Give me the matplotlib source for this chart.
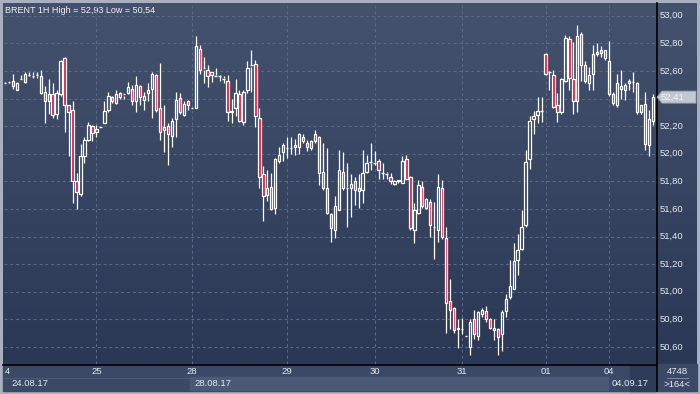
import matplotlib
matplotlib.use("Agg")
import matplotlib.pyplot as plt
from matplotlib.patches import Rectangle, Polygon
import numpy as np

# BRENT 1H candles, 24.08.17 - 04.09.17
opens = [52.51, 52.52, 52.53, 52.46, 52.53, 52.52, 52.57, 52.57, 52.56, 52.56,
         52.45, 52.38, 52.43, 52.29, 52.43, 52.69, 52.35, 52.32, 51.80, 51.71,
         51.98, 52.10, 52.20, 52.16, 52.19, 52.22, 52.32, 52.41, 52.37, 52.44,
         52.42, 52.44, 52.47, 52.38, 52.49, 52.39, 52.44, 52.47, 52.57, 52.33,
         52.17, 52.20, 52.13, 52.25, 52.40, 52.28, 52.38, 52.33, 52.33, 52.76,
         52.61, 52.61, 52.57, 52.57, 52.56, 52.55, 52.53, 52.30, 52.33, 52.43,
         52.23, 52.46, 52.63, 52.65, 52.26, 51.85, 51.70, 51.76, 51.61, 51.95,
         52.01, 52.04, 52.04, 52.05, 52.05, 52.12, 52.08, 52.04, 52.09, 52.12,
         51.87, 51.75, 51.56, 51.45, 51.59, 51.87, 51.76, 51.75, 51.80, 51.75,
         51.74, 51.87, 51.93, 51.94, 51.95, 51.86, 51.86, 51.83, 51.78, 51.80,
         51.79, 51.96, 51.83, 51.45, 51.57, 51.76, 51.61, 51.65, 51.47, 51.45,
         51.75, 51.39, 50.93, 50.88, 50.73, 50.73, 50.68, 50.60, 50.80, 50.68,
         50.84, 50.86, 50.80, 50.72, 50.73, 50.69, 50.86, 50.96, 51.02, 51.23,
         51.31, 51.48, 51.96, 52.25, 52.28, 52.31, 52.72, 52.59, 52.57, 52.35,
         52.30, 52.53, 52.83, 52.54, 52.38, 52.87, 52.64, 52.51, 52.58, 52.72,
         52.75, 52.75, 52.67, 52.43, 52.35, 52.49, 52.46, 52.51, 52.52, 52.51,
         52.30, 52.36, 52.06, 52.24]
highs = [52.52, 52.52, 52.58, 52.52, 52.57, 52.59, 52.59, 52.59, 52.59, 52.61,
         52.49, 52.54, 52.51, 52.46, 52.68, 52.70, 52.35, 52.38, 51.86, 52.07,
         52.12, 52.23, 52.21, 52.21, 52.19, 52.38, 52.45, 52.42, 52.46, 52.45,
         52.43, 52.52, 52.50, 52.56, 52.50, 52.45, 52.51, 52.59, 52.58, 52.66,
         52.35, 52.22, 52.26, 52.45, 52.44, 52.38, 52.39, 52.33, 52.85, 52.79,
         52.70, 52.64, 52.59, 52.62, 52.57, 52.56, 52.57, 52.40, 52.54, 52.46,
         52.46, 52.67, 52.75, 52.68, 52.33, 51.91, 51.88, 51.86, 51.97, 52.05,
         52.08, 52.12, 52.12, 52.11, 52.15, 52.14, 52.10, 52.10, 52.17, 52.13,
         52.08, 52.04, 51.57, 51.69, 52.03, 52.01, 51.93, 51.85, 51.83, 51.85,
         52.03, 51.99, 52.08, 52.02, 51.96, 51.93, 51.87, 51.86, 51.81, 51.81,
         51.98, 51.99, 51.84, 51.64, 51.81, 51.80, 51.68, 51.67, 51.65, 51.85,
         51.81, 51.47, 51.09, 50.89, 50.80, 50.81, 50.68, 50.80, 50.87, 50.86,
         50.88, 50.90, 50.81, 50.80, 50.74, 50.87, 50.98, 51.23, 51.35, 51.42,
         51.59, 52.03, 52.27, 52.31, 52.41, 52.41, 52.73, 52.60, 52.61, 52.44,
         52.55, 52.86, 52.85, 52.81, 52.93, 52.88, 52.67, 52.63, 52.79, 52.80,
         52.78, 52.75, 52.82, 52.45, 52.58, 52.61, 52.51, 52.54, 52.59, 52.52,
         52.35, 52.45, 52.32, 52.43]
lows = [52.51, 52.51, 52.47, 52.46, 52.53, 52.51, 52.56, 52.55, 52.55, 52.43,
        52.22, 52.29, 52.26, 52.25, 52.42, 52.16, 51.98, 51.64, 51.60, 51.69,
        51.93, 52.09, 52.09, 52.12, 52.19, 52.22, 52.30, 52.37, 52.36, 52.40,
        52.40, 52.43, 52.35, 52.30, 52.35, 52.32, 52.38, 52.26, 52.30, 52.10,
        52.01, 51.92, 52.05, 52.12, 52.29, 52.27, 52.32, 52.33, 52.33, 52.58,
        52.51, 52.48, 52.52, 52.56, 52.53, 52.51, 52.24, 52.22, 52.27, 52.23,
        52.21, 52.44, 52.45, 52.19, 51.75, 51.51, 51.66, 51.59, 51.56, 51.93,
        51.95, 51.97, 52.00, 51.99, 52.00, 52.08, 52.02, 52.03, 52.08, 51.77,
        51.74, 51.56, 51.36, 51.39, 51.59, 51.74, 51.47, 51.54, 51.63, 51.61,
        51.64, 51.86, 51.88, 51.92, 51.82, 51.82, 51.82, 51.78, 51.77, 51.79,
        51.79, 51.82, 51.45, 51.35, 51.56, 51.61, 51.60, 51.40, 51.24, 51.36,
        51.38, 50.70, 50.73, 50.70, 50.59, 50.69, 50.68, 50.54, 50.66, 50.65,
        50.82, 50.78, 50.73, 50.65, 50.54, 50.57, 50.82, 50.95, 51.02, 51.12,
        51.30, 51.47, 51.89, 52.14, 52.22, 52.23, 52.57, 52.46, 52.33, 52.23,
        52.29, 52.52, 52.46, 52.29, 52.30, 52.53, 52.51, 52.46, 52.46, 52.71,
        52.70, 52.68, 52.42, 52.35, 52.34, 52.40, 52.39, 52.46, 52.45, 52.29,
        52.29, 52.03, 51.98, 52.21]
closes = [52.51, 52.52, 52.49, 52.51, 52.54, 52.58, 52.57, 52.56, 52.57, 52.44,
          52.38, 52.43, 52.28, 52.44, 52.67, 52.35, 52.30, 51.80, 51.72, 51.98,
          52.10, 52.21, 52.15, 52.18, 52.19, 52.31, 52.42, 52.38, 52.43, 52.41,
          52.43, 52.48, 52.38, 52.50, 52.41, 52.42, 52.46, 52.58, 52.32, 52.16,
          52.19, 52.14, 52.24, 52.39, 52.30, 52.36, 52.35, 52.33, 52.78, 52.61,
          52.62, 52.56, 52.59, 52.56, 52.56, 52.54, 52.30, 52.31, 52.44, 52.24,
          52.45, 52.62, 52.64, 52.27, 51.83, 51.69, 51.75, 51.60, 51.96, 51.99,
          52.06, 52.04, 52.04, 52.06, 52.14, 52.09, 52.05, 52.09, 52.14, 51.86,
          51.75, 51.57, 51.46, 51.62, 51.88, 51.75, 51.75, 51.78, 51.74, 51.73,
          51.86, 51.93, 51.94, 51.93, 51.88, 51.86, 51.85, 51.80, 51.80, 51.81,
          51.95, 51.82, 51.46, 51.59, 51.77, 51.62, 51.67, 51.48, 51.47, 51.76,
          51.40, 50.92, 50.87, 50.72, 50.74, 50.73, 50.68, 50.78, 50.69, 50.85,
          50.87, 50.80, 50.74, 50.74, 50.67, 50.85, 50.95, 51.04, 51.22, 51.30,
          51.47, 51.94, 52.24, 52.27, 52.31, 52.31, 52.58, 52.59, 52.34, 52.30,
          52.54, 52.84, 52.55, 52.38, 52.85, 52.64, 52.53, 52.57, 52.72, 52.74,
          52.73, 52.69, 52.43, 52.37, 52.51, 52.47, 52.50, 52.53, 52.52, 52.30,
          52.35, 52.07, 52.25, 52.41]

day_labels = ["25", "28", "29", "30", "31", "01", "04"]
day_starts = [23, 47, 71, 93, 115, 136, 152]
price_ticks = [53.00, 52.80, 52.60, 52.40, 52.20, 52.00, 51.80,
               51.60, 51.40, 51.20, 51.00, 50.80, 50.60]
last_price = 52.41

W, H = 700, 394
fig = plt.figure(figsize=(7, 3.94), dpi=100)
fig.patch.set_facecolor("#a9b1c0")

# background layer in pixel coords
bg = fig.add_axes([0, 0, 1, 1])
bg.set_xlim(0, W)
bg.set_ylim(H, 0)
bg.axis("off")

top_c = np.array([0x45, 0x52, 0x6e]) / 255
bot_c = np.array([0x2b, 0x38, 0x55]) / 255
t = np.linspace(0, 1, 256)[:, None]
grad = top_c[None, :] * (1 - t) + bot_c[None, :] * t
bg.imshow(grad[:, None, :], extent=[3, 697, 364, 3], aspect="auto", zorder=0)

# bottom date band
bg.add_patch(Rectangle((3, 364), 694, 27, color="#3c4966", zorder=1))
bg.add_patch(Rectangle((190, 377), 418, 13, color="#4b5876", zorder=1))
bg.plot([3, 608], [377.5, 377.5], color="#4e5b78", lw=0.8, zorder=2)
bg.add_patch(Rectangle((630, 365), 26, 26, color="#2f3c58", zorder=1))
bg.plot([3, 656], [364.5, 364.5], color="black", lw=1.2, zorder=3)
bg.plot([656.5, 656.5], [3, 391], color="black", lw=1.2, zorder=3)

# main chart axes
ylo = 53.0 - (364 - 15.7) / 138
yhi = 53.0 - (3 - 15.7) / 138
ax = fig.add_axes([4 / W, (H - 364) / H, 652 / W, 361 / H])
ax.patch.set_alpha(0)
ax.set_xlim(-0.25, 163.8)
ax.set_ylim(ylo, yhi)
ax.axis("off")

grid_kw = dict(color="#5d6b8a", lw=0.7, ls=(0, (3, 3)), zorder=1)
for p in price_ticks:
    ax.axhline(p, **grid_kw)
for d in day_starts:
    ax.axvline(d, **grid_kw)

x = np.arange(len(opens))
o = np.array(opens)
c = np.array(closes)
hi = np.array(highs)
lo = np.array(lows)
top = np.maximum(o, c)
bot = np.minimum(o, c)
bw = 0.6
ax.vlines(x, top, hi, color="white", lw=0.9, zorder=3)
ax.vlines(x, lo, bot, color="white", lw=0.9, zorder=3)
for i in x:
    if abs(c[i] - o[i]) <= 0.01:
        ax.hlines(c[i], i - bw / 2, i + bw / 2, color="white", lw=1.0, zorder=4)
    else:
        fc = "#e8173f" if c[i] < o[i] else "none"
        ax.add_patch(Rectangle((i - bw / 2, bot[i]), bw, top[i] - bot[i],
                               facecolor=fc, edgecolor="white", lw=0.9, zorder=4))

# text
txt = dict(color="#e4e9f2", fontsize=6.8, family="Liberation Sans")
bg.text(5, 10, "BRENT 1H High = 52,93 Low = 50,54", va="center", ha="left",
        color="#f2f2f2", fontsize=6.5, family="Liberation Sans", zorder=5)

def py(p):
    return 15.7 + (53.0 - p) * 138

yp = py(last_price)
for p in price_ticks:
    if abs(py(p) - yp) < 10:
        continue  # hidden behind the last-price marker
    bg.text(659.5, py(p), f"{p:.2f}".replace(".", ","), va="center", ha="left", **txt)

# current price marker
bg.add_patch(Polygon([[657, yp], [662, yp - 6], [696, yp - 6], [696, yp + 6], [662, yp + 6]],
                     closed=True, facecolor="#c3c7cf", edgecolor="#9aa0aa", lw=0.6, zorder=5))
bg.text(661, yp, "52,41", va="center", ha="left", color="#f4f6fa", fontsize=6.8,
        family="Liberation Sans", zorder=6)

# day labels
bg.text(5, 372, "4", va="center", ha="left", **txt)
for lab, d in zip(day_labels, day_starts):
    px = 4 + (d + 0.25) / (163.8 + 0.25) * 652
    bg.text(px, 372, lab, va="center", ha="center", **txt)

bg.text(11, 383.5, "24.08.17", va="center", ha="left", **txt)
bg.text(194, 383.5, "28.08.17", va="center", ha="left", **txt)
bg.text(612, 383.5, "04.09.17", va="center", ha="left", **txt)

bg.text(677, 372, "4748", va="center", ha="center", **txt)
bg.plot([667, 688], [378, 378], color="#7d89a3", lw=0.7, zorder=5)
bg.text(677, 384.5, ">164<", va="center", ha="center", **txt)

fig.savefig("out.png", dpi=100, facecolor=fig.get_facecolor())
